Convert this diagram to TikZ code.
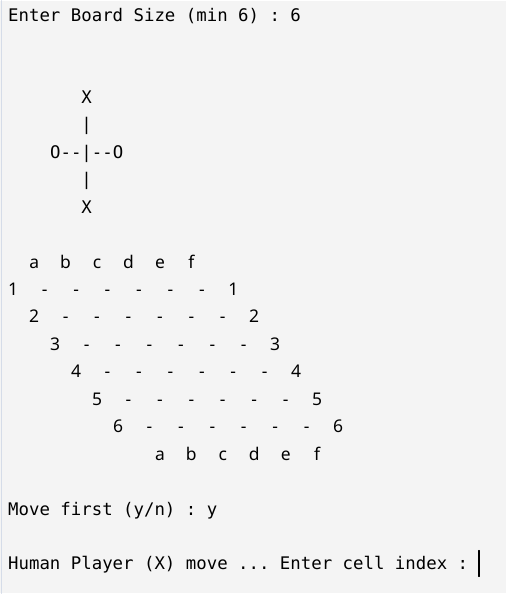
\documentclass[tikz,border=0pt]{standalone}
\usepackage{fontspec}
\setmonofont{DejaVu Sans Mono}
\newfontfamily\boardfont{Noto Sans}
\definecolor{termbg}{HTML}{F4F4F4}
\definecolor{termedge}{HTML}{D5DCE8}
\definecolor{termtext}{HTML}{000000}
\begin{document}
\begin{tikzpicture}[x=1pt,y=-1pt,line cap=round,
	txt/.style={anchor=base west,inner sep=0pt,text=termtext,font=\fontsize{17.4}{20}\selectfont\ttfamily},
	cell/.style={anchor=base,inner sep=0pt,text=termtext,font=\fontsize{17.5}{20}\selectfont\boardfont}]
	% terminal window
	\fill[termbg] (0,0) rectangle (507,594);
	\draw[termedge,line width=1.2pt] (1.5,0)--(1.5,594);
	\node[txt] (size) at (8,20.5) {Enter Board Size (min 6) : 6};
	% small hex key
	\node[txt,anchor=base] (xtop) at ({13.25+10.5*7},{20.5+27.5*3}) {X};
	\node[txt,anchor=base] (bartop) at ({13.25+10.5*7},{20.5+27.5*4}) {|};
	\node[txt] (omid) at ({8+10.5*4},{20.5+27.5*5}) {O-{}-|-{}-O};
	\node[txt,anchor=base] (barbot) at ({13.25+10.5*7},{20.5+27.5*6}) {|};
	\node[txt,anchor=base] (xbot) at ({13.25+10.5*7},{20.5+27.5*7}) {X};
	% board
	\foreach \c [count=\k from 0] in {a,b,c,d,e,f}{
		\node[cell] (top\c) at ({13.25+10.5*(2+3*\k)},{20.5+27.5*9}) {\c};
		\node[cell] (bot\c) at ({13.25+10.5*(14+3*\k)},{20.5+27.5*16}) {\c};
	}
	\foreach \r in {1,...,6}{
		\pgfmathsetmacro\s{2*(\r-1)}
		\node[cell] (left\r) at ({13.25+10.5*\s},{20.5+27.5*(9+\r)}) {\r};
		\foreach \k in {1,...,6}
			\node[cell] (cell\r\k) at ({13.25+10.5*(\s+3*\k)},{20.5+27.5*(9+\r)}) {-};
		\node[cell] (right\r) at ({13.25+10.5*(\s+21)},{20.5+27.5*(9+\r)}) {\r};
	}
	% prompts
	\node[txt] (first) at (8,{20.5+27.5*18}) {Move first (y/n) : y};
	\node[txt] (move) at (8,{20.5+27.5*20}) {Human Player (X) move ... Enter cell index :};
	\coordinate (cur1) at (480,551);
	\coordinate (cur2) at (480,577);
	\draw[termtext,line width=1.3pt] (cur1)--(cur2);
\end{tikzpicture}
\end{document}
